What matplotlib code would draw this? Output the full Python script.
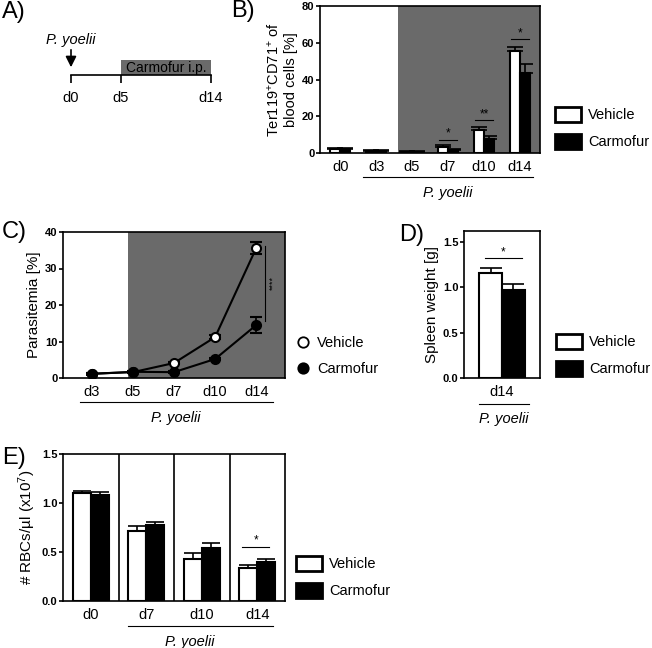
import matplotlib
matplotlib.use('Agg')
import matplotlib.pyplot as plt
from matplotlib.patches import Patch, Rectangle
from matplotlib.lines import Line2D
from matplotlib import transforms
import numpy as np

plt.rcParams['font.family'] = ['Liberation Sans', 'DejaVu Sans']
plt.rcParams['mathtext.fontset'] = 'custom'
plt.rcParams['mathtext.rm'] = 'Liberation Sans'
plt.rcParams['mathtext.it'] = 'Liberation Sans:italic'

W, H = 652, 648
GRAY = '#6a6a6a'

# A) timeline
timeline_days = [0, 5, 14]
treat_start, treat_end = 5, 14

# B) Ter119+CD71+ cells
b_days = ['d0', 'd3', 'd5', 'd7', 'd10', 'd14']
b_vehicle = [2.0, 1.2, 0.8, 3.3, 12.4, 55.5]
b_vehicle_err = [0.5, 0.3, 0.2, 0.9, 1.8, 2.3]
b_carmofur = [2.0, 1.2, 0.7, 1.5, 7.8, 43.3]
b_carmofur_err = [0.5, 0.3, 0.2, 0.5, 1.3, 5.4]
b_sig = [(3, 7.3, '*'), (4, 18.0, '**'), (5, 62.0, '*')]

# C) parasitemia
c_days = ['d3', 'd5', 'd7', 'd10', 'd14']
c_vehicle = [1.2, 1.6, 4.1, 11.2, 35.6]
c_vehicle_err = [0.2, 0.2, 0.3, 0.6, 1.7]
c_carmofur = [1.1, 1.7, 1.6, 5.2, 14.5]
c_carmofur_err = [0.2, 0.2, 0.2, 0.4, 2.2]

# D) spleen weight
d_days = ['d14']
d_vehicle = [1.16]
d_vehicle_err = [0.05]
d_carmofur = [0.97]
d_carmofur_err = [0.07]

# E) RBC counts
e_days = ['d0', 'd7', 'd10', 'd14']
e_vehicle = [1.10, 0.716, 0.428, 0.339]
e_vehicle_err = [0.025, 0.05, 0.058, 0.024]
e_carmofur = [1.077, 0.777, 0.544, 0.394]
e_carmofur_err = [0.033, 0.028, 0.045, 0.031]

fig = plt.figure(figsize=(W / 100, H / 100), dpi=100)


def px_axes(l, t, r, b):
    return fig.add_axes([l / W, 1 - b / H, (r - l) / W, (b - t) / H])


def style(ax):
    for s in ax.spines.values():
        s.set_linewidth(1.2)
    ax.tick_params(axis='y', length=3, width=1.2, labelsize=8, pad=1)
    ax.tick_params(axis='x', length=0, labelsize=10.5, pad=5)
    for lab in ax.get_yticklabels():
        lab.set_fontweight('bold')


def bracket(ax, x0, x1, y_line, x_text, y_text):
    tr = transforms.blended_transform_factory(ax.transData, ax.transAxes)
    ax.plot([x0, x1], [y_line, y_line], color='black', lw=0.8, transform=tr, clip_on=False)
    ax.text(x_text, y_text, 'P. yoelii', style='italic', fontsize=10.5, ha='center', va='center',
            transform=tr)


def bars(ax, x, veh, veh_err, carm, carm_err, width, capsize):
    x = np.asarray(x, dtype=float)
    ax.errorbar(x - width / 2, veh, yerr=[np.zeros(len(veh)), veh_err], fmt='none', ecolor='black',
                elinewidth=1.2, capsize=capsize, capthick=1.2, zorder=2)
    ax.errorbar(x + width / 2, carm, yerr=[np.zeros(len(carm)), carm_err], fmt='none', ecolor='black',
                elinewidth=1.2, capsize=capsize, capthick=1.2, zorder=2)
    ax.bar(x - width / 2, veh, width, color='white', edgecolor='black', linewidth=1.5, zorder=3)
    ax.bar(x + width / 2, carm, width, color='black', edgecolor='black', linewidth=1.5, zorder=3)


def sig(ax, x0, x1, y, label, dy):
    ax.plot([x0, x1], [y, y], color='black', lw=0.8, zorder=4)
    ax.text((x0 + x1) / 2, y + dy, label, ha='center', va='center', fontsize=8.5)


def bar_legend(ax, x_px, y_px):
    handles = [Patch(facecolor='white', edgecolor='black', linewidth=2),
               Patch(facecolor='black', edgecolor='black', linewidth=2)]
    ax.legend(handles, ['Vehicle', 'Carmofur'], loc='center left', frameon=False,
              bbox_to_anchor=(x_px / W, 1 - y_px / H), bbox_transform=fig.transFigure,
              borderpad=0, borderaxespad=0, fontsize=10.5, handlelength=1.8, handleheight=1.2,
              handletextpad=0.45, labelspacing=0.8)


# ---- A) timeline sketch
axA = px_axes(41, 30, 241, 110)
axA.set_xlim(-3, 17)
axA.set_ylim(110, 30)
axA.axis('off')
axA.add_patch(Rectangle((treat_start, 60), treat_end - treat_start, 15, facecolor=GRAY, edgecolor='none'))
axA.text((treat_start + treat_end) / 2, 68, 'Carmofur i.p.', ha='center', va='center', fontsize=10)
axA.plot([timeline_days[0], timeline_days[-1]], [75, 75], color='black', lw=1.2)
axA.vlines(timeline_days, 75, 83, color='black', lw=1.2)
for d in timeline_days:
    axA.text(d, 98, 'd%d' % d, ha='center', va='center', fontsize=10.5)
axA.annotate('', xy=(0, 70), xytext=(0, 47),
             arrowprops=dict(arrowstyle='-|>', color='black', lw=1.2, mutation_scale=16))
axA.text(0, 40, 'P. yoelii', style='italic', ha='center', va='center', fontsize=10.5)

# ---- B)
axB = px_axes(320, 6, 540, 153)
xb = np.arange(len(b_days))
axB.set_xlim(-0.56, 5.56)
axB.set_ylim(0, 80)
axB.axvspan(1.6, 5.56, color=GRAY, lw=0, zorder=0)
bars(axB, xb, b_vehicle, b_vehicle_err, b_carmofur, b_carmofur_err, 0.28, 5.5)
for x, y, s in b_sig:
    sig(axB, x - 0.25, x + 0.25, y, s, 3.2)
axB.set_xticks(xb, b_days)
axB.set_yticks([0, 20, 40, 60, 80])
axB.set_ylabel('Ter119$^{+}$CD71$^{+}$ of\nblood cells [%]', fontsize=10.5, labelpad=3)
style(axB)
bracket(axB, 0.64, 5.36, -0.163, 3.0, -0.272)
bar_legend(axB, 555, 128)

# ---- C)
axC = px_axes(63, 232, 285, 378)
xc = np.arange(len(c_days))
axC.set_xlim(-0.7, 4.7)
axC.set_ylim(0, 40)
axC.axvspan(0.88, 4.7, color=GRAY, lw=0, zorder=0)
axC.errorbar(xc, c_vehicle, yerr=c_vehicle_err, color='black', lw=1.5, marker='o', ms=6.5,
             mfc='white', mec='black', mew=1.5, capsize=4, capthick=1.2, elinewidth=1.2, zorder=3)
axC.errorbar(xc, c_carmofur, yerr=c_carmofur_err, color='black', lw=1.5, marker='o', ms=6.5,
             mfc='black', mec='black', mew=1.5, capsize=4, capthick=1.2, elinewidth=1.2, zorder=3)
axC.plot([4.22, 4.22], [36.2, 15.5], color='black', lw=0.8)
axC.text(4.4, 26, '****', rotation=90, ha='center', va='center', fontsize=6.5)
axC.set_xticks(xc, c_days)
axC.set_yticks([0, 10, 20, 30, 40])
axC.set_ylabel('Parasitemia [%]', fontsize=11, labelpad=3)
style(axC)
bracket(axC, -0.29, 4.41, -0.164, 2.05, -0.274)
axC.legend([Line2D([], [], ls='none', marker='o', ms=7.5, mfc='white', mec='black', mew=1.3),
            Line2D([], [], ls='none', marker='o', ms=7.5, mfc='black', mec='black', mew=1.3)],
           ['Vehicle', 'Carmofur'], loc='center left', frameon=False,
           bbox_to_anchor=(297 / W, 1 - 356 / H), bbox_transform=fig.transFigure,
           borderpad=0, borderaxespad=0, fontsize=10.5, handlelength=0.8,
           handletextpad=0.6, labelspacing=0.8)

# ---- D)
axD = px_axes(464, 231, 540, 378)
xd = np.arange(len(d_days))
axD.set_xlim(-0.5, 0.5)
axD.set_ylim(0, 1.62)
bars(axD, xd, d_vehicle, d_vehicle_err, d_carmofur, d_carmofur_err, 0.3, 8)
sig(axD, -0.23, 0.26, 1.32, '*', 0.06)
axD.set_xticks(xd, d_days)
axD.set_yticks([0.0, 0.5, 1.0, 1.5], ['0.0', '0.5', '1.0', '1.5'])
axD.set_ylabel('Spleen weight [g]', fontsize=11, labelpad=3)
style(axD)
bracket(axD, -0.3, 0.35, -0.177, 0.02, -0.28)
bar_legend(axD, 556, 355)

# ---- E)
axE = px_axes(63, 454, 285, 601)
xe = np.arange(len(e_days))
axE.set_xlim(-0.5, 3.5)
axE.set_ylim(0, 1.5)
bars(axE, xe, e_vehicle, e_vehicle_err, e_carmofur, e_carmofur_err, 0.32, 6.5)
for sep in xe[:-1] + 0.5:
    axE.axvline(sep, color='black', lw=1.2)
sig(axE, 2.72, 3.22, 0.548, '*', 0.07)
axE.set_xticks(xe, e_days)
axE.set_yticks([0.0, 0.5, 1.0, 1.5], ['0.0', '0.5', '1.0', '1.5'])
axE.set_ylabel('# RBCs/µl (x10$^{7}$)', fontsize=11, labelpad=3)
style(axE)
bracket(axE, 0.67, 3.28, -0.17, 1.79, -0.28)
bar_legend(axE, 296, 577)

# panel letters
for lbl, x, y in [('A)', 2, 12), ('B)', 231, 11), ('C)', 2, 232), ('D)', 399, 235), ('E)', 2, 458)]:
    fig.text(x / W, 1 - y / H, lbl, fontsize=17, ha='left', va='center')

fig.savefig('out.png', dpi=100)
